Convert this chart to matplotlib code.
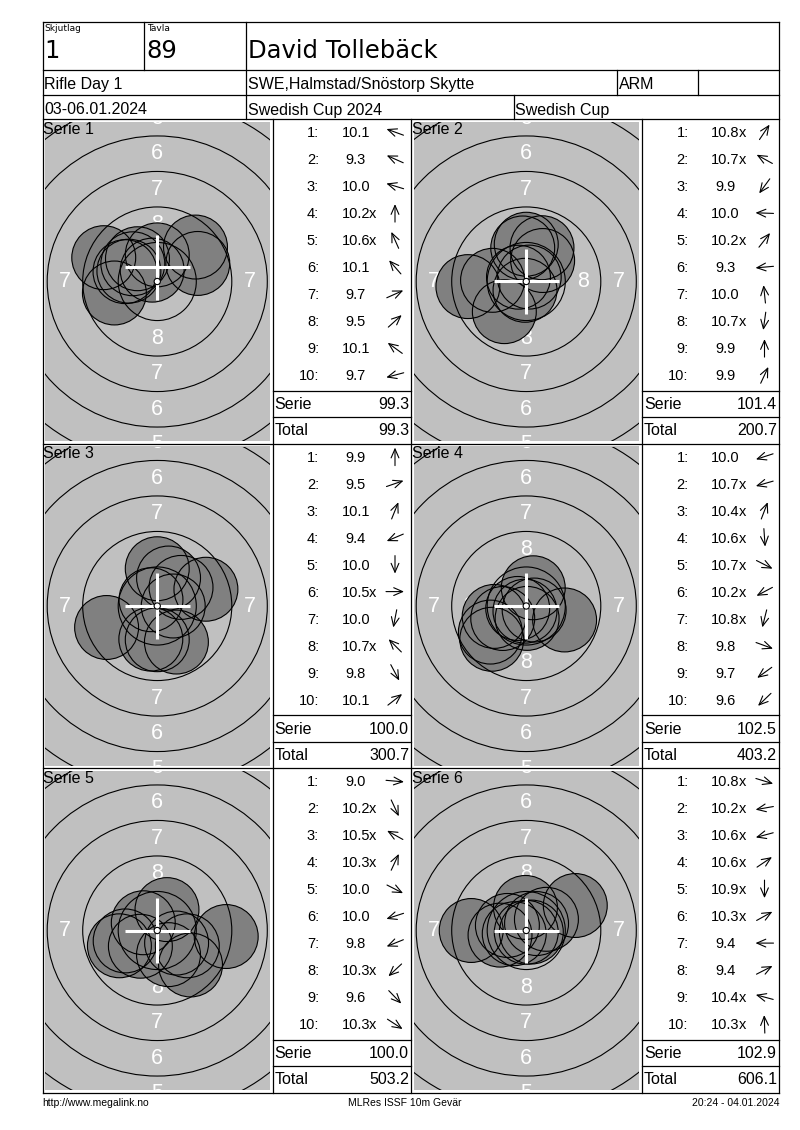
import numpy as np
import matplotlib
matplotlib.use('Agg')
import matplotlib.pyplot as plt
from matplotlib.patches import Circle

plt.rcParams['font.family'] = ['Liberation Sans', 'DejaVu Sans']

# header / footer texts
squad = '1'
target_no = '89'
shooter = 'David Tollebäck'
event = 'Rifle Day 1'
club = 'SWE,Halmstad/Snöstorp Skytte'
shooter_class = 'ARM'
dates = '03-06.01.2024'
competition = 'Swedish Cup 2024'
cup = 'Swedish Cup'
footer_left = 'http://www.megalink.no'
footer_mid = 'MLRes ISSF 10m Gevär'
footer_right = '20:24 - 04.01.2024'

# shots: score text and direction of the hit (degrees, 0 = right, 90 = up)
s1_scores = ['10.1', '9.3', '10.0', '10.2x', '10.6x', '10.1', '9.7', '9.5', '10.1', '9.7']
s1_dirs = [160, 156, 163, 90, 114, 131, 24, 42, 144, 195]
s2_scores = ['10.8x', '10.7x', '9.9', '10.0', '10.2x', '9.3', '10.0', '10.7x', '9.9', '9.9']
s2_dirs = [56, 151, 234, 178, 52, 185, 96, 262, 90, 65]
s3_scores = ['9.9', '9.5', '10.1', '9.4', '10.0', '10.5x', '10.0', '10.7x', '9.8', '10.1']
s3_dirs = [90, 19, 68, 203, 270, 0, 259, 135, 298, 38]
s4_scores = ['10.0', '10.7x', '10.4x', '10.6x', '10.7x', '10.2x', '10.8x', '9.8', '9.7', '9.6']
s4_dirs = [198, 196, 69, 274, 333, 208, 256, 340, 216, 224]
s5_scores = ['9.0', '10.2x', '10.5x', '10.3x', '10.0', '10.0', '9.8', '10.3x', '9.6', '10.3x']
s5_dirs = [355, 295, 151, 65, 333, 198, 202, 223, 314, 327]
s6_scores = ['10.8x', '10.2x', '10.6x', '10.6x', '10.9x', '10.3x', '9.4', '9.4', '10.4x', '10.3x']
s6_dirs = [343, 190, 195, 34, 270, 29, 180, 27, 165, 92]

serie_sums = ['99.3', '101.4', '100.0', '102.5', '100.0', '102.9']
running_totals = ['99.3', '200.7', '300.7', '403.2', '503.2', '606.1']
cross_offsets = [(0, 1.0), (0, 0), (0, 0), (0, 0), (0, 0), (0, 0)]

all_scores = [s1_scores, s2_scores, s3_scores, s4_scores, s5_scores, s6_scores]
all_dirs = [s1_dirs, s2_dirs, s3_dirs, s4_dirs, s5_dirs, s6_dirs]

W, H = 800, 1130
fig = plt.figure(figsize=(8, 11.3), dpi=100)

PX_PER_MM = 14.2
PELLET_R = 2.25


def ring_radius(n):
    return 0.25 + 2.5 * (10 - n)


def score_dist(s):
    return (10.95 - float(s.rstrip('x'))) * 2.5


block_tops = [119, 443.5, 768]
block_h = 324.5
target_cols = [(42.5, 272.5), (411, 642)]
table_cols = [(272.5, 411), (642, 779)]

for i in range(6):
    row, col = i // 2, i % 2
    bt = block_tops[row]
    bb = bt + block_h
    tl, tr = target_cols[col]
    x0, x1 = tl + 2.5, tr - 3
    y0, y1 = bt + 3, bb - 2.5
    ax = fig.add_axes([x0 / W, 1 - y1 / H, (x1 - x0) / W, (y1 - y0) / H])
    hw = (x1 - x0) / 2 / PX_PER_MM
    hh = (y1 - y0) / 2 / PX_PER_MM
    ax.set_xlim(-hw, hw)
    ax.set_ylim(-hh, hh)
    ax.set_facecolor('#c0c0c0')
    ax.set_xticks([])
    ax.set_yticks([])
    for sp in ax.spines.values():
        sp.set_visible(False)

    # ring numbers
    for n in range(1, 9):
        r = ring_radius(n) - 1.25
        for (dx, dy) in [(0, 1), (0, -1), (1, 0), (-1, 0)]:
            ax.text(dx * r, dy * r, str(n), color='white', fontsize=15.5,
                    ha='center', va='center', zorder=1, clip_on=True)

    scores = all_scores[i]
    dirs = np.radians(all_dirs[i])
    d = np.array([score_dist(s) for s in scores])
    xs = d * np.cos(dirs)
    ys = d * np.sin(dirs)
    for x, y in zip(xs, ys):
        ax.add_patch(Circle((x, y), PELLET_R, fc='#808080', ec='none', zorder=2))
    for x, y in zip(xs, ys):
        ax.add_patch(Circle((x, y), PELLET_R, fc='none', ec='black', lw=0.8, zorder=3))

    for n in range(1, 10):
        ax.add_patch(Circle((0, 0), ring_radius(n), fc='none', ec='black', lw=0.8, zorder=4))

    cx, cy = cross_offsets[i]
    ax.plot([cx - 2.3, cx + 2.3], [cy, cy], color='white', lw=2.2,
            solid_capstyle='butt', zorder=5)
    ax.plot([cx, cx], [cy - 2.3, cy + 2.3], color='white', lw=2.2,
            solid_capstyle='butt', zorder=5)
    ax.add_patch(Circle((0, 0), 0.22, fc='white', ec='black', lw=0.8, zorder=6))

# overlay in pixel coordinates for the frame and texts
ov = fig.add_axes([0, 0, 1, 1], zorder=10)
ov.set_xlim(0, W)
ov.set_ylim(H, 0)
ov.axis('off')

LW = 0.9


def hline(y, xa, xb):
    ov.plot([xa, xb], [y, y], color='black', lw=LW)


def vline(x, ya, yb):
    ov.plot([x, x], [ya, yb], color='black', lw=LW)


L, R, T, B = 42.5, 779, 21.5, 1092.5
hline(T, L, R)
hline(B, L, R)
vline(L, T, B)
vline(R, T, B)
for y in [70, 95, 119, 443.5, 768]:
    hline(y, L, R)
vline(143.5, T, 70)
vline(245.5, T, 119)
vline(617, 70, 95)
vline(698, 70, 95)
vline(513.5, 95, 119)
for x in [272.5, 411, 642]:
    vline(x, 119, B)

big = ['DejaVu Sans']
ov.text(44, 31, 'Skjutlag', fontsize=6.5, family=big, ha='left', va='baseline')
ov.text(147, 31, 'Tavla', fontsize=6.5, family=big, ha='left', va='baseline')
ov.text(44, 58, squad, fontsize=17.5, family=big, ha='left', va='baseline')
ov.text(146.5, 58, target_no, fontsize=17.5, family=big, ha='left', va='baseline')
ov.text(248.5, 58, shooter, fontsize=17.5, family=big, ha='left', va='baseline')
ov.text(44, 89, event, fontsize=11.5, ha='left', va='baseline')
ov.text(248, 89, club, fontsize=11.5, ha='left', va='baseline')
ov.text(618.5, 89, shooter_class, fontsize=11.5, ha='left', va='baseline')
ov.text(44, 114.5, dates, fontsize=11.5, ha='left', va='baseline')
ov.text(248, 114.5, competition, fontsize=11.5, ha='left', va='baseline')
ov.text(515, 114.5, cup, fontsize=11.5, ha='left', va='baseline')

ARROW_LEN = 18
for i in range(6):
    row, col = i // 2, i % 2
    bt = block_tops[row]
    tl, tr = target_cols[col]
    ov.text(tl + 0.5, bt + 15, 'Serie %d' % (i + 1), fontsize=11.5, ha='left', va='baseline')

    al, ar = table_cols[col]
    hline(bt + 271.7, al, ar)
    hline(bt + 298.3, al, ar)
    for k, (s, ang) in enumerate(zip(all_scores[i], all_dirs[i])):
        yb = bt + 18.3 + 27 * k
        ov.text(al + 46.5, yb, '%d:' % (k + 1), fontsize=10.5, ha='right', va='baseline')
        ov.text(al + 83.5, yb, s.rstrip('x'), fontsize=10.5, ha='center', va='baseline')
        if s.endswith('x'):
            ov.text(al + 96.8, yb, 'x', fontsize=10.5, ha='left', va='baseline')
        a = np.radians(ang)
        acx, acy = al + 122.5, yb - 5.2
        ddx, ddy = ARROW_LEN / 2 * np.cos(a), -ARROW_LEN / 2 * np.sin(a)
        ov.annotate('', xy=(acx + ddx, acy + ddy), xytext=(acx - ddx, acy - ddy),
                    arrowprops=dict(arrowstyle='->,head_length=0.8,head_width=0.35',
                                    lw=0.8, color='black', shrinkA=0, shrinkB=0,
                                    mutation_scale=8))
    ov.text(al + 2, bt + 290.3, 'Serie', fontsize=11.5, ha='left', va='baseline')
    ov.text(ar - 2, bt + 290.3, serie_sums[i], fontsize=11.5, ha='right', va='baseline')
    ov.text(al + 2, bt + 316, 'Total', fontsize=11.5, ha='left', va='baseline')
    ov.text(ar - 2, bt + 316, running_totals[i], fontsize=11.5, ha='right', va='baseline')

ov.text(42, 1105.5, footer_left, fontsize=7.5, ha='left', va='baseline')
ov.text(405, 1105.5, footer_mid, fontsize=7.5, ha='center', va='baseline')
ov.text(779, 1105.5, footer_right, fontsize=7.5, ha='right', va='baseline')

fig.savefig('out.png', dpi=100)
